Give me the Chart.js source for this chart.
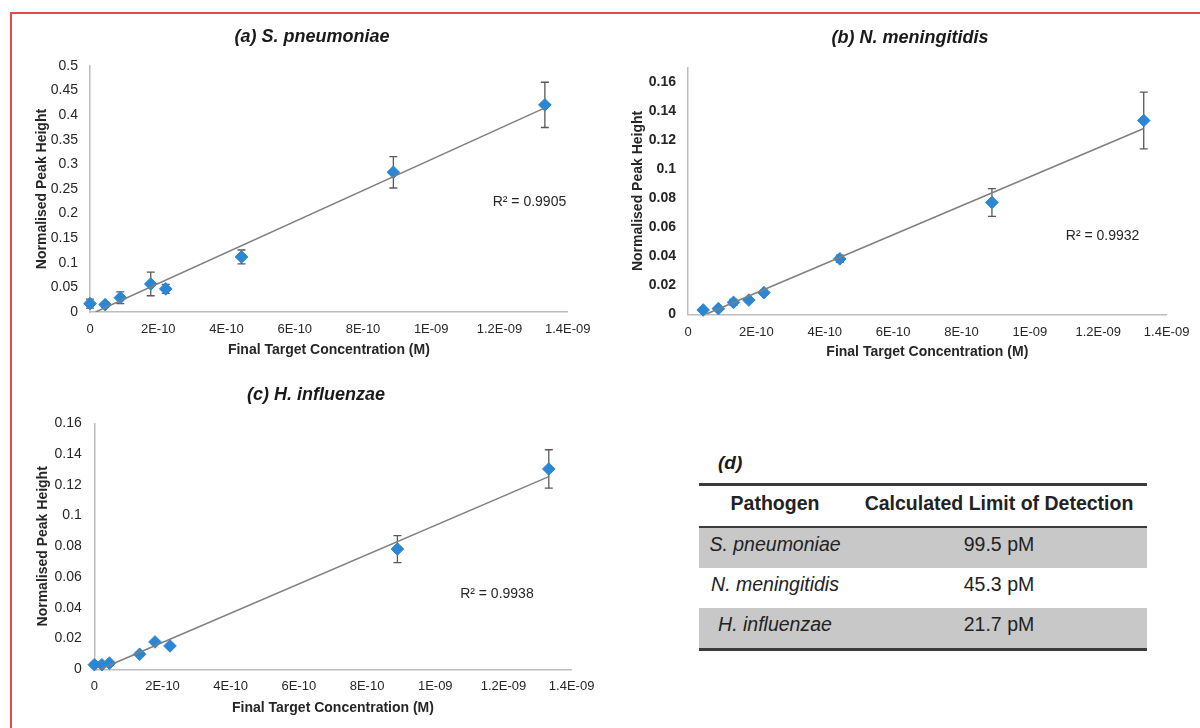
<!DOCTYPE html>
<html>
<head>
<meta charset="utf-8">
<title>Calibration curves and limits of detection</title>
<script src="https://cdn.jsdelivr.net/npm/chart.js@4.4.0/dist/chart.umd.min.js"></script>
<style>
  html, body { margin: 0; padding: 0; background: #fff; overflow: hidden; }
  body { position: relative; width: 1200px; height: 728px; font-family: "Liberation Sans", Arial, Helvetica, sans-serif; color: #1a1a1a; }
  .frame { position: absolute; left: 10px; top: 12px; width: 1400px; height: 900px; border-left: 2.5px solid #e5484d; border-top: 2.5px solid #e5484d; }
  canvas { position: absolute; }
  .panel-label { position: absolute; left: 718px; top: 452px; font-size: 19px; line-height: 22px; font-weight: bold; font-style: italic; }
  .lod { position: absolute; left: 699px; top: 483px; width: 448px; border-top: 3px solid #3c3c3c; border-bottom: 3px solid #3c3c3c; font-size: 19.5px; color: #222; }
  .lod .row { display: flex; height: 40px; line-height: 33px; padding-bottom: 7px; box-sizing: border-box; }
  .lod .row.head { height: 41.5px; line-height: 34px; font-weight: bold; border-bottom: 2.5px solid #3c3c3c; }
  .lod .row.shade { background: #c8c8c8; }
  .lod .c1 { width: 152px; text-align: center; }
  .lod .c2 { flex: 1; text-align: center; }
  .lod .row:not(.head) .c1 { font-style: italic; }
</style>
</head>
<body>
<div class="frame"></div>
<canvas id="chartA"></canvas>
<canvas id="chartB"></canvas>
<canvas id="chartC"></canvas>
<div class="panel-label">(d)</div>
<div class="lod" id="lodTable"></div>

<script>
// ---- data ----
const xTickLabels = ['0', '2E-10', '4E-10', '6E-10', '8E-10', '1E-09', '1.2E-09', '1.4E-09'];
const yTicksA = ['0', '0.05', '0.1', '0.15', '0.2', '0.25', '0.3', '0.35', '0.4', '0.45', '0.5'];
const yTicksBC = ['0', '0.02', '0.04', '0.06', '0.08', '0.1', '0.12', '0.14', '0.16'];

// (a) S. pneumoniae
const concA = [0, 4.44e-11, 8.89e-11, 1.78e-10, 2.22e-10, 4.44e-10, 8.89e-10, 1.333e-9];
const heightA = [0.017, 0.015, 0.029, 0.057, 0.047, 0.112, 0.284, 0.421];
const errA = [0.009, 0.005, 0.012, 0.024, 0.009, 0.014, 0.032, 0.046];
const trendAx = [1.65e-11, 1.333e-9];
const trendAy = [0, 0.415];

// (b) N. meningitidis
const concB = [4.44e-11, 8.89e-11, 1.33e-10, 1.78e-10, 2.22e-10, 4.44e-10, 8.89e-10, 1.333e-9];
const heightB = [0.003, 0.0039, 0.0082, 0.0098, 0.0149, 0.0382, 0.077, 0.1335];
const errB = [0.0012, 0.0012, 0.002, 0.0015, 0.0015, 0.0025, 0.0095, 0.0195];
const trendBx = [5.2e-11, 1.333e-9];
const trendBy = [0, 0.128];

// (c) H. influenzae
const concC = [0, 2.22e-11, 4.44e-11, 1.33e-10, 1.78e-10, 2.22e-10, 8.89e-10, 1.333e-9];
const heightC = [0.003, 0.003, 0.004, 0.0098, 0.0178, 0.0152, 0.0782, 0.1303];
const errC = [0.0008, 0.0008, 0.0008, 0.0012, 0.0012, 0.0012, 0.0088, 0.0125];
const trendCx = [1.7e-11, 1.333e-9];
const trendCy = [0, 0.1253];

const rSquared = ['0.9905', '0.9932', '0.9938'];

// (d) table
const pathogens = ['S. pneumoniae', 'N. meningitidis', 'H. influenzae'];
const limits = ['99.5 pM', '45.3 pM', '21.7 pM'];

// ---- plugins ----
const errorBarPlugin = {
  id: 'errorBars',
  beforeDatasetsDraw(chart) {
    const { ctx, scales: { x, y } } = chart;
    chart.data.datasets.forEach(ds => {
      if (!ds.errors) return;
      ctx.save();
      ctx.strokeStyle = '#595959';
      ctx.lineWidth = 1.3;
      ds.data.forEach((p, i) => {
        const e = ds.errors[i];
        const px = x.getPixelForValue(p.x);
        const top = y.getPixelForValue(p.y + e);
        const bot = y.getPixelForValue(p.y - e);
        ctx.beginPath();
        ctx.moveTo(px, top); ctx.lineTo(px, bot);
        ctx.moveTo(px - 4, top); ctx.lineTo(px + 4, top);
        ctx.moveTo(px - 4, bot); ctx.lineTo(px + 4, bot);
        ctx.stroke();
      });
      ctx.restore();
    });
  }
};

const r2Plugin = {
  id: 'r2Label',
  afterDatasetsDraw(chart, args, opts) {
    if (!opts || !opts.text) return;
    const { ctx, scales: { x, y } } = chart;
    ctx.save();
    ctx.font = '14px "Liberation Sans", Arial, sans-serif';
    ctx.fillStyle = '#262626';
    ctx.textAlign = 'left';
    ctx.textBaseline = 'middle';
    ctx.fillText(opts.text, x.getPixelForValue(opts.x), y.getPixelForValue(opts.y));
    ctx.restore();
  }
};

Chart.register(errorBarPlugin, r2Plugin);
Chart.defaults.font.family = '"Liberation Sans", Arial, Helvetica, sans-serif';
Chart.defaults.color = '#262626';

const toPoints = (xs, ys) => xs.map((v, i) => ({ x: v, y: ys[i] }));

// g holds where things sit on the page, so the plot boxes line up with the figure
function buildPanel(id, g, p) {
  const canvas = document.getElementById(id);
  canvas.width = g.w;
  canvas.height = g.h;
  canvas.style.left = g.left + 'px';
  canvas.style.top = g.top + 'px';

  const padLeft = 2 * g.titleX - g.left - g.plotRight;
  const padRight = g.left + g.w - g.plotRight;
  const yAxisWidth = g.plotLeft - g.left - padLeft;
  const xAxisHeight = g.h - (g.plotBottom - g.top);
  const titleTop = g.titleY - g.top - 18 * 0.6;
  const titleBottom = (g.plotTop - g.top) - titleTop - 18 * 1.2;
  const yTitleOffset = g.yTitleX - (g.left + padLeft);

  return new Chart(canvas, {
    type: 'scatter',
    data: {
      datasets: [
        {
          label: 'Linear fit',
          data: toPoints(p.trendX, p.trendY),
          showLine: true,
          borderColor: '#7f7f7f',
          borderWidth: 1.5,
          pointRadius: 0
        },
        {
          label: p.title,
          data: toPoints(p.xs, p.ys),
          errors: p.errs,
          pointStyle: 'rectRot',
          pointRadius: 6.3,
          backgroundColor: '#2b86d3',
          borderColor: '#2b86d3',
          borderWidth: 1,
          clip: false
        }
      ]
    },
    options: {
      responsive: false,
      animation: false,
      layout: { padding: { left: padLeft, right: padRight, top: 0, bottom: 0 } },
      plugins: {
        legend: { display: false },
        tooltip: { enabled: false },
        title: {
          display: true,
          text: p.title,
          color: '#1a1a1a',
          font: { size: 18, weight: 'bold', style: 'italic' },
          padding: { top: titleTop, bottom: titleBottom }
        },
        r2Label: { text: 'R\u00b2 = ' + p.r2, x: p.r2At[0], y: p.r2At[1] }
      },
      scales: {
        x: {
          type: 'linear',
          position: 'bottom',
          min: 0,
          max: 1.4e-9,
          afterFit: s => { s.height = xAxisHeight; },
          grid: { display: false, drawTicks: false },
          border: { display: true, color: '#bdbdbd', width: 1.5 },
          ticks: {
            stepSize: 2e-10,
            autoSkip: false,
            maxRotation: 0,
            padding: g.xLabelGap - 13 * 0.6,
            font: { size: 13 },
            color: '#262626',
            callback: (v, i) => xTickLabels[i] ?? ''
          },
          title: {
            display: true,
            text: 'Final Target Concentration (M)',
            color: '#262626',
            font: { size: 14, weight: 'bold' },
            padding: { top: 0, bottom: xAxisHeight - g.xTitleGap - 14 * 0.6 }
          }
        },
        y: {
          type: 'linear',
          min: 0,
          max: p.yMax,
          bounds: 'data',
          afterFit: s => { s.width = yAxisWidth; },
          grid: { display: false, drawTicks: false },
          border: { display: true, color: '#bdbdbd', width: 1.5 },
          ticks: {
            stepSize: p.yStep,
            includeBounds: false,
            padding: g.yLabelGap,
            font: { size: 14, weight: p.boldTicks ? 'bold' : 'normal' },
            color: '#262626',
            callback: (v, i) => p.yLabels[i] ?? ''
          },
          title: {
            display: true,
            text: 'Normalised Peak Height',
            color: '#262626',
            font: { size: 14, weight: 'bold' },
            padding: { top: yTitleOffset - 14 * 0.6, bottom: 0 }
          }
        }
      }
    }
  });
}

buildPanel('chartA',
  { left: 12, top: 14, w: 588, h: 352, plotLeft: 90, plotRight: 573, plotTop: 66, plotBottom: 312,
    titleX: 312, titleY: 37, yTitleX: 42, yLabelGap: 12, xLabelGap: 17.3, xTitleGap: 38 },
  { title: '(a) S. pneumoniae', xs: concA, ys: heightA, errs: errA, trendX: trendAx, trendY: trendAy,
    yMax: 0.5, yStep: 0.05, yLabels: yTicksA, boldTicks: false, r2: rSquared[0], r2At: [1.18e-9, 0.2236] });

buildPanel('chartB',
  { left: 600, top: 14, w: 600, h: 352, plotLeft: 688, plotRight: 1172, plotTop: 67.5, plotBottom: 314.3,
    titleX: 910, titleY: 38, yTitleX: 638, yLabelGap: 12, xLabelGap: 18.4, xTitleGap: 38 },
  { title: '(b) N. meningitidis', xs: concB, ys: heightB, errs: errB, trendX: trendBx, trendY: trendBy,
    yMax: 0.17, yStep: 0.02, yLabels: yTicksBC, boldTicks: true, r2: rSquared[1], r2At: [1.105e-9, 0.0539] });

buildPanel('chartC',
  { left: 12, top: 372, w: 592, h: 356, plotLeft: 94.3, plotRight: 578, plotTop: 423.3, plotBottom: 669.3,
    titleX: 316, titleY: 395, yTitleX: 43, yLabelGap: 12.6, xLabelGap: 17.4, xTitleGap: 38.4 },
  { title: '(c) H. influenzae', xs: concC, ys: heightC, errs: errC, trendX: trendCx, trendY: trendCy,
    yMax: 0.16, yStep: 0.02, yLabels: yTicksBC, boldTicks: false, r2: rSquared[2], r2At: [1.073e-9, 0.049] });

// table (d)
const table = document.getElementById('lodTable');
table.innerHTML =
  '<div class="row head"><div class="c1">Pathogen</div><div class="c2">Calculated Limit of Detection</div></div>' +
  pathogens.map((name, i) =>
    `<div class="row${i % 2 === 0 ? ' shade' : ''}"><div class="c1">${name}</div><div class="c2">${limits[i]}</div></div>`
  ).join('');
</script>
</body>
</html>
